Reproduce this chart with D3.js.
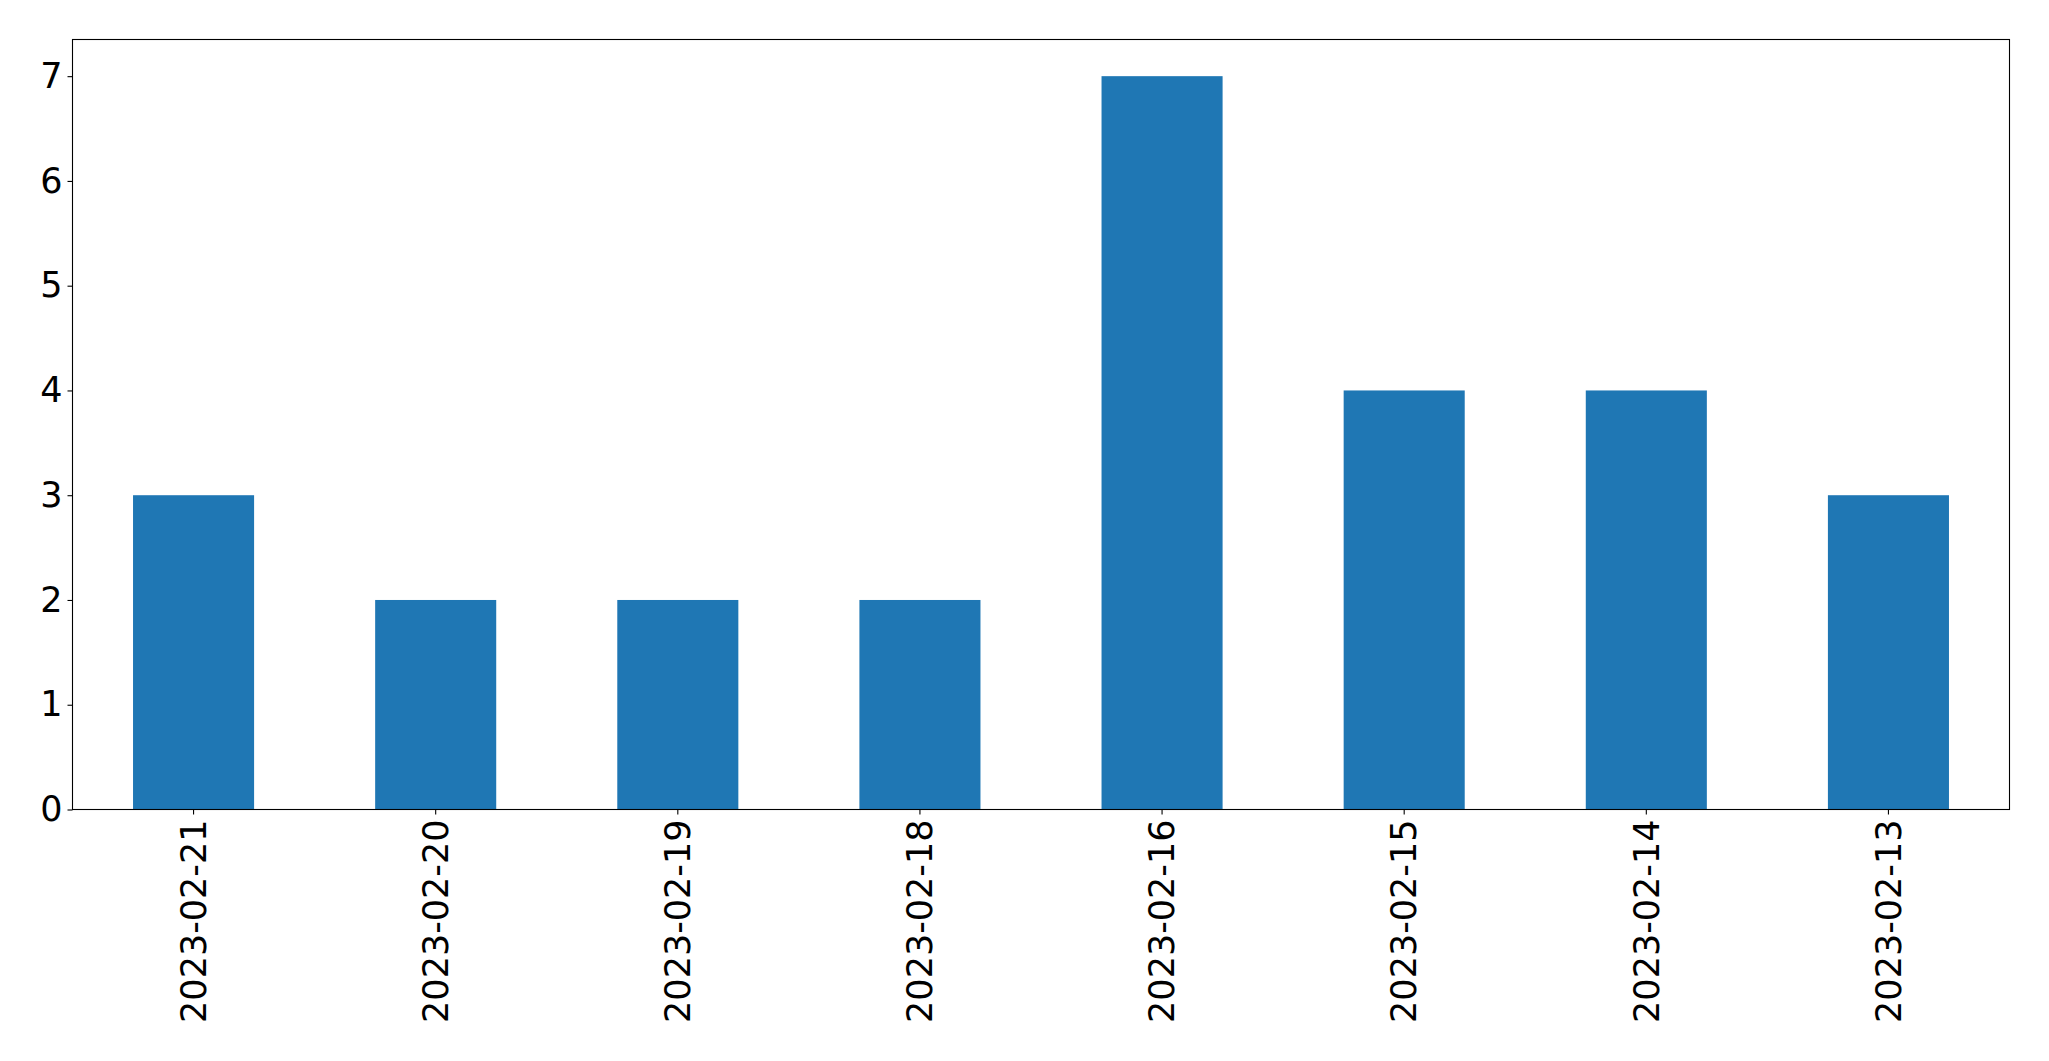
<!DOCTYPE html>
<html>
<head>
<meta charset="utf-8">
<script src="https://cdn.jsdelivr.net/npm/d3@7"></script>
<style>
  html, body { margin: 0; padding: 0; background: #fff; }
  svg { display: block; }
  text { font-family: "DejaVu Sans", sans-serif; fill: #000; }
</style>
</head>
<body>
<svg id="chart" width="2049" height="1061"></svg>
<script>
const categories = ["2023-02-21", "2023-02-20", "2023-02-19", "2023-02-18", "2023-02-16", "2023-02-15", "2023-02-14", "2023-02-13"];
const values = [3, 2, 2, 2, 7, 4, 4, 3];
const yTicks = [0, 1, 2, 3, 4, 5, 6, 7];

const W = 2049, H = 1061;
const margin = { left: 72.5, right: 2009.5, top: 39.5, bottom: 809.5 };
const fontSize = 35;

const svg = d3.select("#chart");

const x = d3.scaleBand()
  .domain(categories)
  .range([margin.left, margin.right])
  .paddingInner(0.5)
  .paddingOuter(0.25);

const yMax = d3.max(values) * 1.05;
const y = d3.scaleLinear()
  .domain([0, yMax])
  .range([margin.bottom, margin.top]);

// bars
svg.append("g")
  .selectAll("rect")
  .data(values)
  .join("rect")
  .attr("x", (d, i) => x(categories[i]))
  .attr("width", x.bandwidth())
  .attr("y", d => y(d))
  .attr("height", d => y(0) - y(d))
  .attr("fill", "#1f77b4");

// y axis
const yAxis = d3.axisLeft(y).tickValues(yTicks).tickFormat(d3.format("d")).tickSize(5).tickPadding(5);
const gy = svg.append("g").attr("transform", `translate(${margin.left},0)`).call(yAxis);
gy.select(".domain").remove();
gy.selectAll(".tick line").attr("stroke", "#000").attr("stroke-width", 1.1);
gy.selectAll(".tick text").style("font-size", fontSize + "px").style("font-family", "DejaVu Sans, sans-serif").attr("fill", "#000");

// x axis
const xAxis = d3.axisBottom(x).tickSize(5).tickPadding(5);
const gx = svg.append("g").attr("transform", `translate(0,${margin.bottom})`).call(xAxis);
gx.select(".domain").remove();
gx.selectAll(".tick line").attr("stroke", "#000").attr("stroke-width", 1.1);
gx.selectAll(".tick text")
  .style("font-size", fontSize + "px")
  .style("font-family", "DejaVu Sans, sans-serif")
  .attr("fill", "#000")
  .attr("text-anchor", "end")
  .attr("transform", "rotate(-90)")
  .attr("x", -10)
  .attr("y", 0)
  .attr("dy", "0.35em");

// frame
svg.append("rect")
  .attr("x", margin.left)
  .attr("y", margin.top)
  .attr("width", margin.right - margin.left)
  .attr("height", margin.bottom - margin.top)
  .attr("fill", "none")
  .attr("stroke", "#000")
  .attr("stroke-width", 1.1);
</script>
</body>
</html>
